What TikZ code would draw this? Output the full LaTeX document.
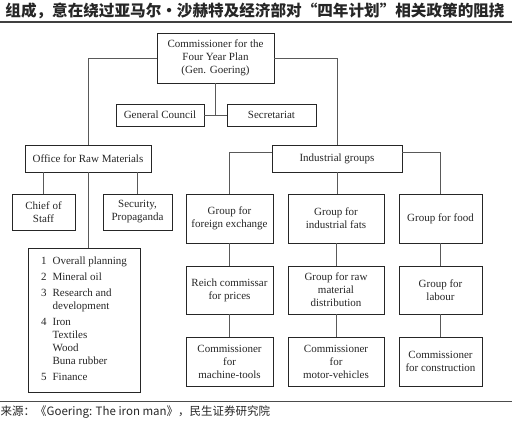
\documentclass[tikz,border=0pt]{standalone}
\usepackage{fontspec}
\setmainfont{Liberation Serif}
\newfontfamily\cjk{Noto Sans CJK SC}
\begin{document}
\begin{tikzpicture}[x=1pt,y=-1pt,
  box/.style={draw=black!85,line width=0.9pt,inner sep=1pt,align=center,font=\fontsize{11}{13}\selectfont,text=black!85},
  conn/.style={draw=black!65,line width=0.8pt},
  rulel/.style={draw=black!75,line width=1.3pt}]
\useasboundingbox (0,0) rectangle (512,429);
% title and rules
\node[font=\cjk\bfseries\fontsize{15.6}{18}\selectfont,text=black!85,anchor=center] (title) at (255,11) {组成，意在绕过亚马尔·沙赫特及经济部对“四年计划”相关政策的阻挠};
\draw[rulel] (0,22) -- (512,22);
\draw[draw=black!70,line width=0.9pt] (0,401) -- (512,401);
\node[font=\cjk\fontsize{11.5}{13}\selectfont,text=black!85,anchor=west,inner sep=0pt] (src) at (0.5,412) {来源：《Goering: The iron man》，民生证券研究院};
% nodes
\node[box,minimum width=117pt,minimum height=50pt] (top) at (215.5,58) {Commissioner for the\\Four Year Plan\\(Gen. Goering)};
\node[box,minimum width=88pt,minimum height=22pt] (gc) at (160,115) {General Council};
\node[box,minimum width=89pt,minimum height=22pt] (sec) at (271.5,115) {Secretariat};
\node[box,minimum width=126pt,minimum height=27pt] (office) at (88,158.5) {Office for Raw Materials};
\node[box,minimum width=63pt,minimum height=36pt] (chief) at (43.5,212) {Chief of\\Staff};
\node[box,minimum width=69pt,minimum height=36pt] (secp) at (137.5,212) {Security,\\Propaganda};
\node[box,minimum width=112pt,minimum height=144pt] (list) at (84,320) {\renewcommand{\arraystretch}{1}%
\begin{tabular}{@{}l@{\hspace{6pt}}l@{}}
1 & Overall planning\\[3pt]
2 & Mineral oil\\[3pt]
3 & Research and\\
  & development\\[3pt]
4 & Iron\\
  & Textiles\\
  & Wood\\
  & Buna rubber\\[3pt]
5 & Finance
\end{tabular}};
\node[box,minimum width=130pt,minimum height=27pt] (ind) at (337,158.5) {Industrial groups};
\node[box,minimum width=87pt,minimum height=49pt] (a1) at (229.5,218.5) {Group for\\foreign exchange};
\node[box,minimum width=96pt,minimum height=49pt] (b1) at (336,218.5) {Group for\\industrial fats};
\node[box,minimum width=83pt,minimum height=49pt] (c1) at (440.5,218.5) {Group for food};
\node[box,minimum width=87pt,minimum height=48pt] (a2) at (229.5,290) {Reich commissar\\for prices};
\node[box,minimum width=96pt,minimum height=48pt] (b2) at (336,290) {Group for raw\\material\\distribution};
\node[box,minimum width=83pt,minimum height=48pt] (c2) at (440.5,290) {Group for\\labour};
\node[box,minimum width=87pt,minimum height=49pt] (a3) at (229.5,361.5) {Commissioner\\for\\machine-tools};
\node[box,minimum width=96pt,minimum height=49pt] (b3) at (336,361.5) {Commissioner\\for\\motor-vehicles};
\node[box,minimum width=83pt,minimum height=49pt] (c3) at (440.5,361.5) {Commissioner\\for construction};
% connectors
\draw[conn] (top.west) -| (office.north);
\draw[conn] (top.east) -| (ind.north);
\draw[conn] (top.south) -- (top.south |- gc.east);
\draw[conn] (gc.east) -- (sec.west);
\draw[conn] (office.south) -- (office.south |- list.north);
\draw[conn] (chief.north |- office.south) -- (chief.north);
\draw[conn] (secp.north |- office.south) -- (secp.north);
\draw[conn] ([yshift=-8pt]ind.north west) -| (a1.north);
\draw[conn] ([yshift=-8pt]ind.north east) -| (c1.north);
\draw[conn] (ind.south) -- (ind.south |- b1.north);
\draw[conn] (a1) -- (a2);
\draw[conn] (a2) -- (a3);
\draw[conn] (b1) -- (b2);
\draw[conn] (b2) -- (b3);
\draw[conn] (c1) -- (c2);
\draw[conn] (c2) -- (c3);
\end{tikzpicture}
\end{document}
